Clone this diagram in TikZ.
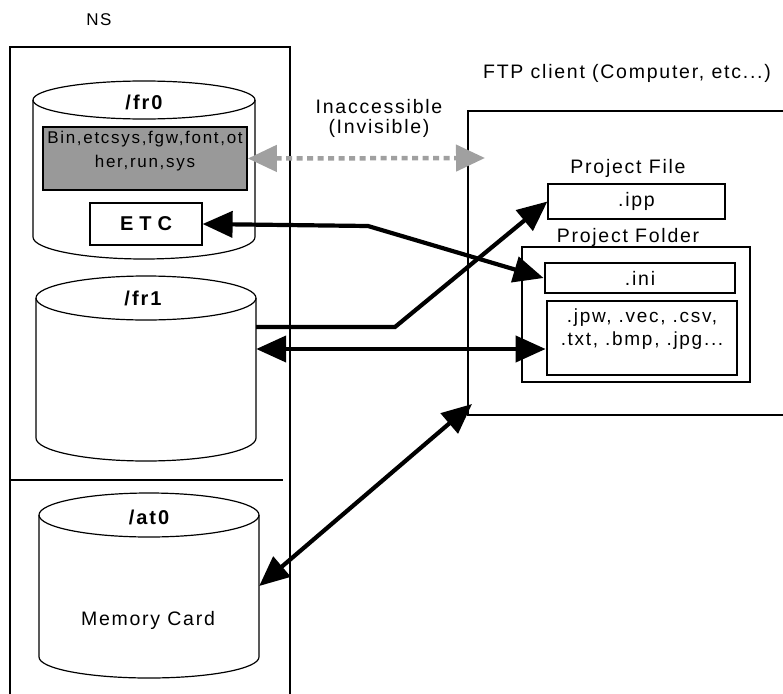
\documentclass[tikz,border=0pt]{standalone}
\usepackage{fontspec}
\setmainfont{Liberation Sans}
\newfontfamily\spaced[LetterSpace=9]{Liberation Sans}
\newfontfamily\sspaced[LetterSpace=10]{Liberation Sans}
\newfontfamily\bspaced[LetterSpace=10]{Liberation Sans Bold}
\newfontfamily\ebspaced[LetterSpace=30]{Liberation Sans Bold}
\usetikzlibrary{arrows.meta}
\definecolor{boxgray}{RGB}{153,153,153}
\definecolor{arrgray}{RGB}{160,160,160}
\begin{document}
\begin{tikzpicture}[x=1pt,y=1pt,
  frame/.style={draw=black,line width=1.2pt},
  thinbox/.style={draw=black,line width=1.2pt,inner sep=0pt},
  thickbox/.style={draw=black,line width=2.8pt,inner sep=0pt},
  txt/.style={font=\spaced\fontsize{19.5}{20}\selectfont,inner sep=0pt,align=center},
  smalltxt/.style={font=\sspaced\fontsize{17}{24}\selectfont,inner sep=0pt,align=center},
  btxt/.style={font=\bspaced\fontsize{20}{22}\selectfont,inner sep=0pt},
  ghost/.style={inner sep=0pt,draw=none},
  arr/.style={line width=4.2pt,-{Triangle[length=30pt,width=26pt]}},
  darr/.style={line width=4.2pt,{Triangle[length=30pt,width=26pt]}-{Triangle[length=30pt,width=26pt]}},
  garr/.style={line width=4.5pt,draw=arrgray,dash pattern=on 6pt off 4.5pt,
    {Triangle[length=29pt,width=26pt,fill=arrgray]}-{Triangle[length=29pt,width=26pt,fill=arrgray]}}
]
\useasboundingbox (0,0) rectangle (783,-693);
\clip (0,0) rectangle (783,-693);

% ---------- NS frame ----------
\draw[frame] (10,-700) -- (10,-47) -- (290,-47) -- (290,-700);
\draw[frame] (10,-480) -- (283,-480);
\node[txt,font=\spaced\fontsize{17}{20}\selectfont] (nslbl) at (99,-20) {NS};

% ---------- cylinders ----------
% /fr0
\draw[frame] (33,-100) -- (33,-237) arc[start angle=180,end angle=360,x radius=111,y radius=22] -- (255,-100);
\draw[frame] (144,-100) ellipse[x radius=111,y radius=19];
\node[ghost,minimum width=222pt,minimum height=137pt] (fr0cyl) at (144,-168.5) {};
\node[btxt] (fr0lbl) at (144,-102) {/fr0};
% /fr1
\draw[frame] (36,-298) -- (36,-438) arc[start angle=180,end angle=360,x radius=110,y radius=23] -- (256,-298);
\draw[frame] (146,-298) ellipse[x radius=110,y radius=22];
\node[ghost,minimum width=220pt,minimum height=140pt] (fr1cyl) at (146,-368) {};
\node[btxt] (fr1lbl) at (143,-298) {/fr1};
% /at0
\draw[frame] (39,-515) -- (39,-657) arc[start angle=180,end angle=360,x radius=110,y radius=21] -- (259,-515);
\draw[frame] (149,-515) ellipse[x radius=110,y radius=22];
\node[ghost,minimum width=220pt,minimum height=142pt] (at0cyl) at (149,-586) {};
\node[btxt] (at0lbl) at (149,-517) {/at0};
\node[txt] (memlbl) at (148,-620) {Memory Card};

% system folders and ETC
\node[draw=black,line width=1.6pt,fill=boxgray,minimum width=204pt,minimum height=63pt,inner sep=0pt] (sysbox) at (145,-158.5) {};
\node[smalltxt] (systxt) at (145,-151) {Bin,etcsys,fgw,font,ot\\her,run,sys};
\node[thinbox,minimum width=112pt,minimum height=42pt,font=\ebspaced\fontsize{20}{22}\selectfont] (etc) at (146,-224) {ETC};

% ---------- FTP client ----------
\node[txt] (ftplbl) at (627,-73) {FTP client (Computer, etc...)};
\node[thinbox,minimum width=340pt,minimum height=304pt] (ftp) at (638,-263) {};
\node[txt] (pflbl) at (628,-168) {Project File};
\node[thinbox,minimum width=177pt,minimum height=35pt,font=\spaced\fontsize{19.5}{20}\selectfont] (ipp) at (636.5,-201.5) {.ipp};
\node[txt] (pfolbl) at (628,-237) {Project Folder};
\node[thinbox,minimum width=228pt,minimum height=135pt] (folder) at (636,-314.5) {};
\node[thickbox,minimum width=190pt,minimum height=30pt,font=\spaced\fontsize{19.5}{20}\selectfont] (ini) at (640,-278) {.ini};
\node[thickbox,minimum width=190pt,minimum height=74pt] (jpw) at (642,-338) {};
\node[txt,font=\spaced\fontsize{19}{23}\selectfont] (jpwtxt) at (642,-329) {.jpw, .vec, .csv,\\.txt, .bmp, .jpg...};

% ---------- inaccessible ----------
\node[txt] (inacc) at (379,-118) {Inaccessible\\(Invisible)};
\coordinate (gtip) at (485,-158);
\draw[garr] (sysbox.east) -- (gtip);

% ---------- connectors ----------
\coordinate (b1) at (368,-226);
\draw[darr] (etc.east) -- (b1) -- (ini.west);
\coordinate (b2) at (395,-327);
\draw[arr] (fr1cyl.east |- 0,-327) -- (b2) -- (ipp.west);
\draw[darr] (fr1cyl.east |- 0,-349) -- (jpw.west |- 0,-349);
\coordinate (ftptip) at (472,-404);
\draw[darr] (at0cyl.east) -- (ftptip);
\end{tikzpicture}
\end{document}
